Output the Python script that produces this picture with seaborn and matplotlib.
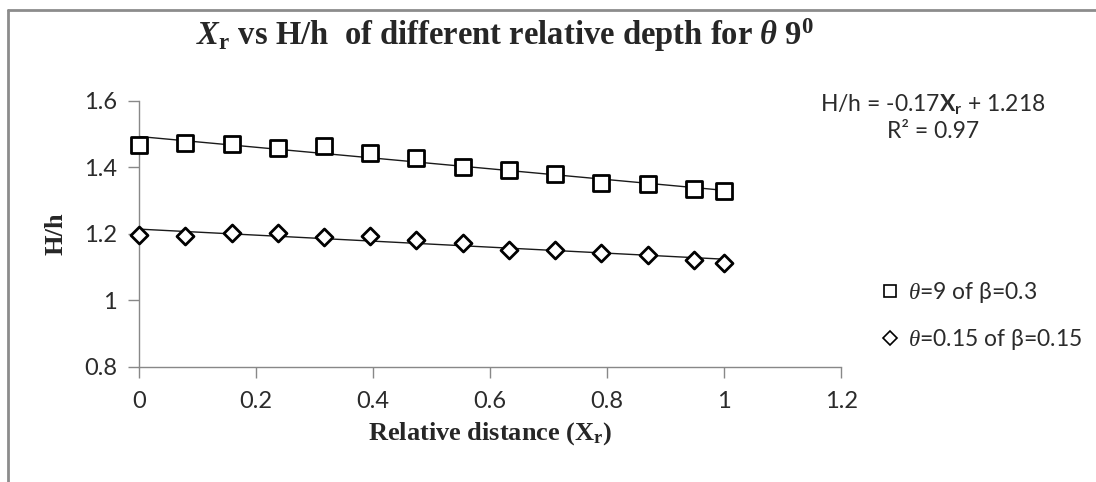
import numpy as np
import pandas as pd
import matplotlib
matplotlib.use("Agg")
import matplotlib.pyplot as plt
import seaborn as sns
from matplotlib.lines import Line2D

# values
x_rel = [0, 0.079, 0.158, 0.237, 0.316, 0.395, 0.474, 0.553, 0.632, 0.711, 0.79, 0.869, 0.948, 1.0]
hh_beta03 = [1.468, 1.473, 1.470, 1.458, 1.465, 1.443, 1.427, 1.402, 1.392, 1.380, 1.353, 1.349, 1.334, 1.329]
hh_beta015 = [1.197, 1.195, 1.202, 1.202, 1.192, 1.195, 1.182, 1.172, 1.152, 1.152, 1.142, 1.137, 1.122, 1.114]
series_labels = [r"$\theta$=9 of β=0.3", r"$\theta$=0.15 of β=0.15"]
x_ticks = [0, 0.2, 0.4, 0.6, 0.8, 1.0, 1.2]
y_ticks = [0.8, 1.0, 1.2, 1.4, 1.6]

sns.set_style("white")
plt.rcParams['font.family'] = ['Lato', 'DejaVu Sans']
plt.rcParams['mathtext.fontset'] = 'custom'
plt.rcParams['mathtext.rm'] = 'Liberation Serif:bold'
plt.rcParams['mathtext.it'] = 'Liberation Serif:italic'
plt.rcParams['mathtext.bf'] = 'Liberation Serif:bold'
plt.rcParams['mathtext.bfit'] = 'Liberation Serif:italic:bold'
plt.rcParams['mathtext.sf'] = 'Lato:bold'

df_a = pd.DataFrame({'x': x_rel, 'hh': hh_beta03})
df_b = pd.DataFrame({'x': x_rel, 'hh': hh_beta015})

fig = plt.figure(figsize=(10.96, 4.82), dpi=100)
ax = fig.add_axes([0.127, 0.2386, 0.6405, 0.552])

# linear trend lines
for d in (df_a, df_b):
    sns.regplot(data=d, x='x', y='hh', scatter=False, ci=None, ax=ax,
                line_kws={'color': '#1a1a1a', 'lw': 1.0})

sns.scatterplot(data=df_a, x='x', y='hh', marker='s', s=125, facecolor='white', edgecolor='black',
                linewidth=2, ax=ax, zorder=3, clip_on=False)
sns.scatterplot(data=df_b, x='x', y='hh', marker='D', s=75, facecolor='white', edgecolor='black',
                linewidth=2, ax=ax, zorder=3, clip_on=False)

ax.set_xlim(0, 1.2)
ax.set_ylim(0.8, 1.6)
ax.set_xticks(x_ticks)
ax.set_yticks(y_ticks)
ax.set_xticklabels([f"{v:g}" for v in x_ticks])
ax.set_yticklabels([f"{v:g}" for v in y_ticks])
ax.tick_params(axis='both', which='major', direction='out', length=8, width=1, color='#888888',
               labelsize=17, labelcolor='#2b2b2b', bottom=True, left=True)
ax.tick_params(axis='x', pad=9)
ax.tick_params(axis='y', pad=8)
for side in ['top', 'right']:
    ax.spines[side].set_visible(False)
for side in ['left', 'bottom']:
    ax.spines[side].set_color('#888888')
    ax.spines[side].set_linewidth(1)

ax.set_xlabel(r"Relative distance (X$_{\mathrm{r}}$)", family='Liberation Serif', fontweight='bold',
              fontsize=19, labelpad=6)
ax.set_ylabel("H/h", family='Liberation Serif', fontweight='bold', fontsize=19, labelpad=12)

fig.text(0.461, 0.926, r"$\mathbfit{X}_{\mathbf{r}}$ vs H/h  of different relative depth for $\mathbfit{\theta}$ 9$^{0}$",
         ha='center', va='center', family='Liberation Serif', fontweight='bold', fontsize=23.5)

fig.text(0.851, 0.757, "H/h = -0.17$\\mathsf{X}_{\\mathsf{r}}$ + 1.218\nR² = 0.97", ha='center', va='center',
         fontsize=16.5, color='#2b2b2b', linespacing=1.25)

handles = [Line2D([], [], ls='none', marker='s', ms=9, mfc='white', mec='black', mew=1.2),
           Line2D([], [], ls='none', marker='D', ms=7, mfc='white', mec='black', mew=1.2)]
fig.legend(handles, series_labels, loc='center left', bbox_to_anchor=(0.785, 0.345), frameon=False,
           fontsize=16.5, labelspacing=0.95, handlelength=0.8, handletextpad=0.4, labelcolor='#2b2b2b')

# chart area border (left and top edges visible)
fig.add_artist(Line2D([8 / 1096, 8 / 1096], [0, 1 - 10 / 482], color='#8c8c8c', lw=2, transform=fig.transFigure))
fig.add_artist(Line2D([8 / 1096, 1], [1 - 10 / 482, 1 - 10 / 482], color='#8c8c8c', lw=2, transform=fig.transFigure))

fig.savefig("out.png", dpi=100)
